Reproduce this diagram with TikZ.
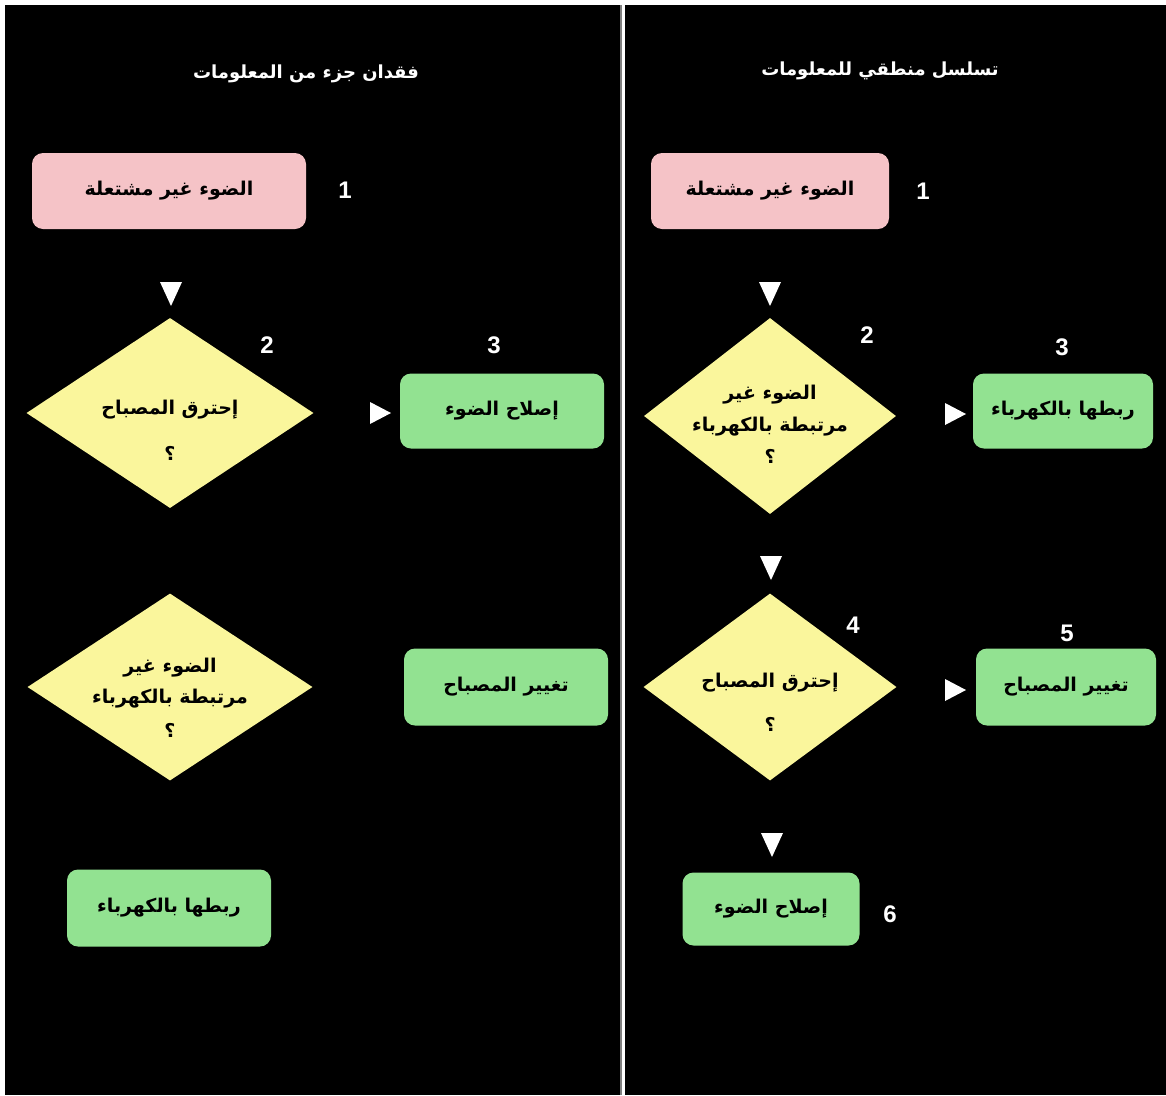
\documentclass[tikz,border=0pt]{standalone}
\usepackage{fontspec}
\setmainfont{Liberation Sans}
\newfontfamily\arabicfont[Script=Arabic]{DejaVu Sans}
\TeXXeTstate=1
\usetikzlibrary{shapes.geometric}
\definecolor{ruzova}{HTML}{F5C3C7}
\definecolor{zluta}{HTML}{FAF69C}
\definecolor{zelena}{HTML}{92E291}
\newcommand{\ar}[1]{{\arabicfont\beginR #1\endR}}

\begin{document}
\begin{tikzpicture}[x=1pt,y=-1pt]
    \tikzstyle{blok}= [rectangle, rounded corners=11pt, inner sep=0pt, font=\bfseries\fontsize{19}{20}\selectfont]
    \tikzstyle{blokR}= [blok, fill=ruzova]
    \tikzstyle{blokZ}= [blok, fill=zelena]
    \tikzstyle{romb}= [diamond, fill=zluta, inner sep=0pt]
    \tikzstyle{napis}= [inner sep=0pt, align=center, font=\bfseries\fontsize{19}{20}\selectfont]
    \tikzstyle{cislo}= [white, font=\bfseries\fontsize{24}{26}\selectfont]
    \tikzstyle{nadpis}= [white, font=\bfseries\fontsize{18}{20}\selectfont]
  \def\dolu(#1){\fill[white,shift={(#1)}] (-11,-12) -- (11,-12) -- (0,12) -- cycle}
  \def\vpravo(#1){\fill[white,shift={(#1)}] (-10,-11) -- (11,0) -- (-10,11) -- cycle}

  % pozadi
  \fill[white] (0,0) rectangle (1166,1095);
  \fill[black] (5,5) rectangle (620,1095);
  \fill[gray] (620,5) rectangle (622,1095);
  \fill[black] (625,5) rectangle (1166,1095);

  % levy panel
  \node[nadpis] (lnadpis) at (306,74) {\ar{فقدان جزء من المعلومات}};
  \node[blokR, minimum width=274, minimum height=76] (l1) at (169,191) {\ar{الضوء غير مشتعلة}};
  \node[romb, minimum width=287, minimum height=190] (l2) at (170,413) {};
  \node[napis] (l2t) at (170,430) {\ar{إحترق المصباح}\\[26pt]\ar{؟}};
  \node[blokZ, minimum width=204, minimum height=75] (l3) at (502,411) {\ar{إصلاح الضوء}};
  \node[romb, minimum width=285, minimum height=187] (l4) at (170,687) {};
  \node[napis] (l4t) at (170,698) {\ar{الضوء غير}\\[11pt]\ar{مرتبطة بالكهرباء}\\[14pt]\ar{؟}};
  \node[blokZ, minimum width=204, minimum height=77] (l5) at (506,687) {\ar{تغيير المصباح}};
  \node[blokZ, minimum width=204, minimum height=77] (l6) at (169,908) {\ar{ربطها بالكهرباء}};

  \foreach \c/\x/\y in {1/345/190, 2/267/345, 3/494/345}
    \node[cislo] (lc\c) at (\x,\y) {\c};
  \dolu(171,294);
  \vpravo(380,413);

  % pravy panel
  \node[nadpis] (rnadpis) at (880,71) {\ar{تسلسل منطقي للمعلومات}};
  \node[blokR, minimum width=238, minimum height=76] (r1) at (770,191) {\ar{الضوء غير مشتعلة}};
  \node[romb, minimum width=252, minimum height=196] (r2) at (770,416) {};
  \node[napis] (r2t) at (770,424) {\ar{الضوء غير}\\[12pt]\ar{مرتبطة بالكهرباء}\\[12pt]\ar{؟}};
  \node[blokZ, minimum width=180, minimum height=75] (r3) at (1063,411) {\ar{ربطها بالكهرباء}};
  \node[romb, minimum width=253, minimum height=187] (r4) at (770,687) {};
  \node[napis] (r4t) at (770,702) {\ar{إحترق المصباح}\\[24pt]\ar{؟}};
  \node[blokZ, minimum width=180, minimum height=77] (r5) at (1066,687) {\ar{تغيير المصباح}};
  \node[blokZ, minimum width=177, minimum height=73] (r6) at (771,909) {\ar{إصلاح الضوء}};

  \foreach \c/\x/\y in {1/923/191, 2/867/335, 3/1062/347, 4/853/625, 5/1067/633, 6/890/914}
    \node[cislo] (rc\c) at (\x,\y) {\c};
  \foreach \p in {{770,294},{771,568},{772,845}}
    \dolu(\p);
  \foreach \p in {{955,414},{955,690}}
    \vpravo(\p);

\end{tikzpicture}
\end{document}
